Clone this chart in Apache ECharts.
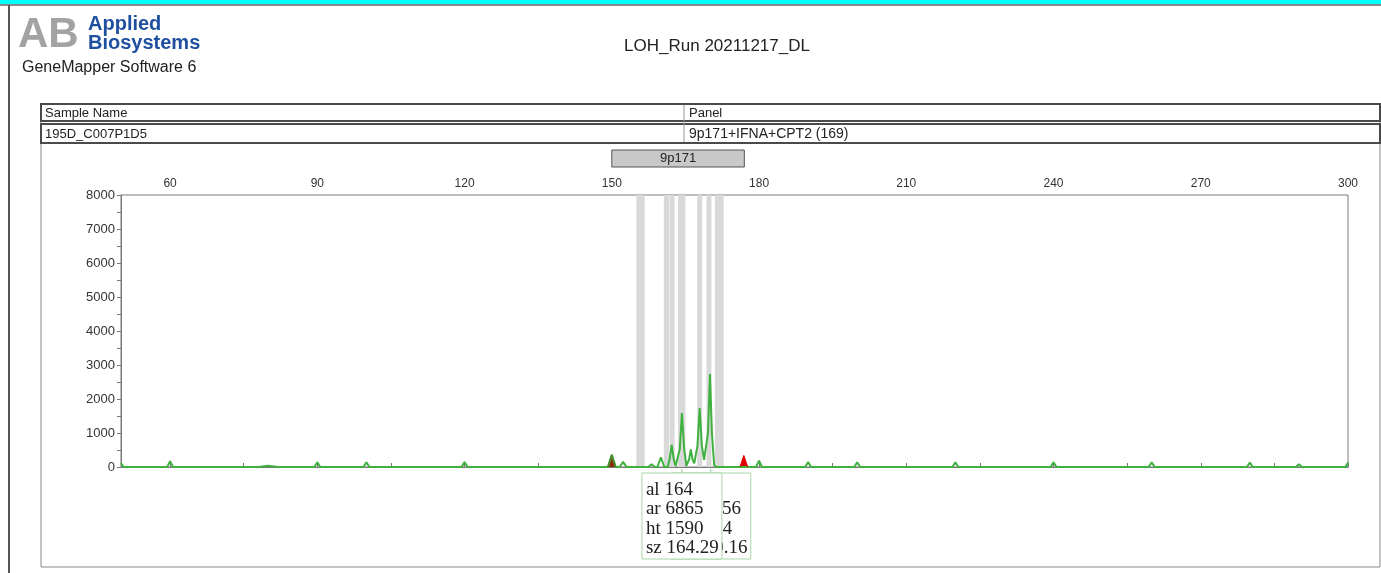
<!DOCTYPE html>
<html>
<head>
<meta charset="utf-8">
<title>LOH_Run 20211217_DL</title>
<script src="https://cdn.jsdelivr.net/npm/echarts@6/dist/echarts.min.js"></script>
<style>
  html, body { margin: 0; padding: 0; background: #fff; }
  #main { width: 1381px; height: 573px; }
</style>
</head>
<body>
<div id="main"></div>
<script>
// 轴刻度 (bp / RFU)
const xLabels = [60, 90, 120, 150, 180, 210, 240, 270, 300];
const xTicks = [60, 75, 90, 105, 120, 135, 150, 165, 180, 195, 210, 225, 240, 255, 270, 285, 300];
const yLabels = [0, 1000, 2000, 3000, 4000, 5000, 6000, 7000, 8000];
const yTicks = [0, 500, 1000, 1500, 2000, 2500, 3000, 3500, 4000, 4500, 5000, 5500, 6000, 6500, 7000, 7500, 8000];

// 绿色通道 [size, rfu]
const greenTrace = [
  [50, 120], [50.5, 0],
  [59.4, 0], [60, 170], [60.6, 0],
  [78, 0], [80, 40], [82, 0],
  [89.4, 0], [90, 140], [90.6, 0],
  [99.4, 0], [100, 140], [100.6, 0],
  [119.4, 0], [120, 150], [120.6, 0],
  [149.2, 0], [150, 360], [150.8, 0],
  [151.6, 0], [152.3, 150], [153.0, 0],
  [157.4, 0], [158.1, 80], [158.8, 0],
  [159.3, 0], [160, 285], [160.7, 0],
  [161.4, 0], [161.8, 250], [162.2, 650], [162.6, 250], [163.0, 30],
  [163.4, 0], [163.85, 520], [164.29, 1590], [164.75, 520], [165.2, 40],
  [165.4, 30], [165.75, 220], [166.1, 520], [166.45, 220], [166.8, 110],
  [167.05, 110], [167.45, 620], [167.9, 1730], [168.35, 620], [168.8, 210],
  [169.2, 230], [169.6, 1000], [170.0, 2735], [170.4, 1000], [170.85, 60], [171.3, 0],
  [179.4, 0], [180, 190], [180.6, 0],
  [189.4, 0], [190, 150], [190.6, 0],
  [199.4, 0], [200, 140], [200.6, 0],
  [219.4, 0], [220, 140], [220.6, 0],
  [239.4, 0], [240, 140], [240.6, 0],
  [259.4, 0], [260, 140], [260.6, 0],
  [279.4, 0], [280, 130], [280.6, 0],
  [289.4, 0], [290, 80], [290.6, 0],
  [299.5, 0], [300, 130]
];

// 内标峰 (红色)
const stdPeakA = [[149.2, 0], [150, 360], [150.8, 0]];
const stdPeakB = [[176.1, 0], [176.9, 340], [177.7, 0]];

// bins
const bins = [
  [155.0, 156.7], [160.6, 161.7], [161.8, 162.8], [163.5, 165.0],
  [167.4, 168.4], [169.3, 170.3], [171.0, 172.8]
];

// marker
const markerName = '9p171';
const markerRange = [150, 177];

// 峰标签
const calloutSize = ['164.29', '170.16'];
const calloutAllele = ['164', '170'];
const calloutArea = ['6865', '11256'];
const calloutHeight = ['1590', '2734'];

const FONT = 'Liberation Sans, Arial, sans-serif';
const SERIF = 'Liberation Serif, Times New Roman, serif';

const myChart = echarts.init(document.getElementById('main'));

const option = {
  animation: false,
  backgroundColor: '#fff',
  grid: {
    left: 121, right: 33, top: 195, bottom: 106,
    show: true, borderColor: '#7a7a7a', borderWidth: 1
  },
  xAxis: {
    type: 'value', position: 'top', min: 50, max: 300,
    axisLine: { show: true, lineStyle: { color: '#7a7a7a' } },
    axisTick: { show: true, customValues: xTicks, length: 4, lineStyle: { color: '#7a7a7a' } },
    axisLabel: { customValues: xLabels, color: '#333', fontSize: 12, fontFamily: FONT, margin: 5 },
    splitLine: { show: false }
  },
  yAxis: {
    type: 'value', min: 0, max: 8000,
    axisLine: { show: true, lineStyle: { color: '#7a7a7a' } },
    axisTick: { show: true, customValues: yTicks, length: 4, lineStyle: { color: '#7a7a7a' } },
    axisLabel: {
      customValues: yLabels, color: '#333', fontSize: 13, fontFamily: FONT, margin: 6,
      formatter: v => String(v)
    },
    splitLine: { show: false }
  },
  graphic: [
    // 顶部青色条和边框
    { type: 'rect', shape: { x: 0, y: 0, width: 1381, height: 4 }, style: { fill: '#00ffff' } },
    { type: 'line', shape: { x1: 0, y1: 5, x2: 1381, y2: 5 }, style: { stroke: '#8a8a8a', lineWidth: 2 } },
    { type: 'line', shape: { x1: 9, y1: 5, x2: 9, y2: 573 }, style: { stroke: '#555', lineWidth: 2 } },
    // logo
    { type: 'text', left: 18, top: 14, style: { text: 'AB', font: 'bold 42px ' + FONT, fill: '#a3a3a3' } },
    { type: 'text', left: 88, top: 14, style: { text: 'Applied', font: 'bold 20px ' + FONT, fill: '#1f4f9f' } },
    { type: 'text', left: 88, top: 33, style: { text: 'Biosystems', font: 'bold 20px ' + FONT, fill: '#1f4f9f' } },
    { type: 'text', left: 22, top: 60, style: { text: 'GeneMapper Software 6', font: '16px ' + FONT, fill: '#222' } },
    { type: 'text', x: 717, y: 46, style: { text: 'LOH_Run 20211217_DL', font: '17px ' + FONT, fill: '#222', align: 'center', verticalAlign: 'middle' } },
    // 面板
    { type: 'rect', shape: { x: 41, y: 104, width: 1339, height: 463 }, style: { fill: 'none', stroke: '#8a8a8a', lineWidth: 1 } },
    { type: 'rect', shape: { x: 41, y: 104, width: 1339, height: 17 }, style: { fill: '#fff', stroke: '#4a4a4a', lineWidth: 2 } },
    { type: 'rect', shape: { x: 41, y: 124, width: 1339, height: 19 }, style: { fill: '#fff', stroke: '#4a4a4a', lineWidth: 2 } },
    { type: 'line', shape: { x1: 684, y1: 105, x2: 684, y2: 142 }, style: { stroke: '#999', lineWidth: 1 } },
    { type: 'text', x: 45, y: 113, style: { text: 'Sample Name', font: '13px ' + FONT, fill: '#222', verticalAlign: 'middle' } },
    { type: 'text', x: 689, y: 113, style: { text: 'Panel', font: '13px ' + FONT, fill: '#222', verticalAlign: 'middle' } },
    { type: 'text', x: 45, y: 134, style: { text: '195D_C007P1D5', font: '13px ' + FONT, fill: '#222', verticalAlign: 'middle' } },
    { type: 'text', x: 689, y: 134, style: { text: '9p171+IFNA+CPT2 (169)', font: '14px ' + FONT, fill: '#222', verticalAlign: 'middle' } }
  ],
  series: [
    {
      name: 'bins', type: 'line', data: [], silent: true,
      markArea: {
        silent: true,
        itemStyle: { color: '#d9d9d9' },
        data: bins.map(b => [{ xAxis: b[0] }, { xAxis: b[1] }])
      }
    },
    {
      name: 'green', type: 'line', data: greenTrace, symbol: 'none', clip: false,
      lineStyle: { color: '#3fb13f', width: 2 }
    },
    {
      name: 'stdA', type: 'line', data: stdPeakA, symbol: 'none', clip: false,
      lineStyle: { color: '#4a8a2a', width: 1.5 },
      areaStyle: { color: '#8a2a0a', opacity: 1 }
    },
    {
      name: 'stdB', type: 'line', data: stdPeakB, symbol: 'none', clip: false,
      lineStyle: { color: '#e00000', width: 1 },
      areaStyle: { color: '#e00000', opacity: 1 }
    },
    {
      name: 'marker', type: 'custom', data: [markerRange], clip: false,
      renderItem(params, api) {
        const p0 = api.coord([api.value(0), 8000]);
        const p1 = api.coord([api.value(1), 8000]);
        return {
          type: 'group',
          children: [
            { type: 'rect', shape: { x: p0[0], y: p0[1] - 45, width: p1[0] - p0[0], height: 17 },
              style: { fill: '#c8c8c8', stroke: '#555', lineWidth: 1 } },
            { type: 'text', x: (p0[0] + p1[0]) / 2, y: p0[1] - 36.5,
              style: { text: markerName, font: '13px ' + FONT, fill: '#222', align: 'center', verticalAlign: 'middle' } }
          ]
        };
      }
    },
    {
      name: 'callout', type: 'custom', clip: false,
      data: calloutSize.map((s, i) => [Number(s), Number(calloutHeight[i])]),
      renderItem(params, api) {
        const i = params.dataIndex;
        const p = api.coord([api.value(0), 0]);
        const top = p[1] + 6;
        const left = p[0] - 40;
        const z = 10 - i;
        const lines = ['al ' + calloutAllele[i], 'ar ' + calloutArea[i], 'ht ' + calloutHeight[i], 'sz ' + calloutSize[i]];
        const children = [
          { type: 'line', z2: z, shape: { x1: p[0], y1: p[1] + 2, x2: p[0], y2: top }, style: { stroke: '#9ccf9c', lineWidth: 1 } },
          { type: 'rect', z2: z, shape: { x: left, y: top, width: 80, height: 86 }, style: { fill: '#fff', stroke: '#a8d8a8', lineWidth: 1 } }
        ];
        lines.forEach((t, k) => {
          children.push({ type: 'text', z2: z, x: left + 4, y: top + 17 + k * 19.5,
            style: { text: t, font: '19px ' + SERIF, fill: '#222', verticalAlign: 'middle' } });
        });
        return { type: 'group', children };
      }
    }
  ]
};

myChart.setOption(option);
</script>
</body>
</html>
